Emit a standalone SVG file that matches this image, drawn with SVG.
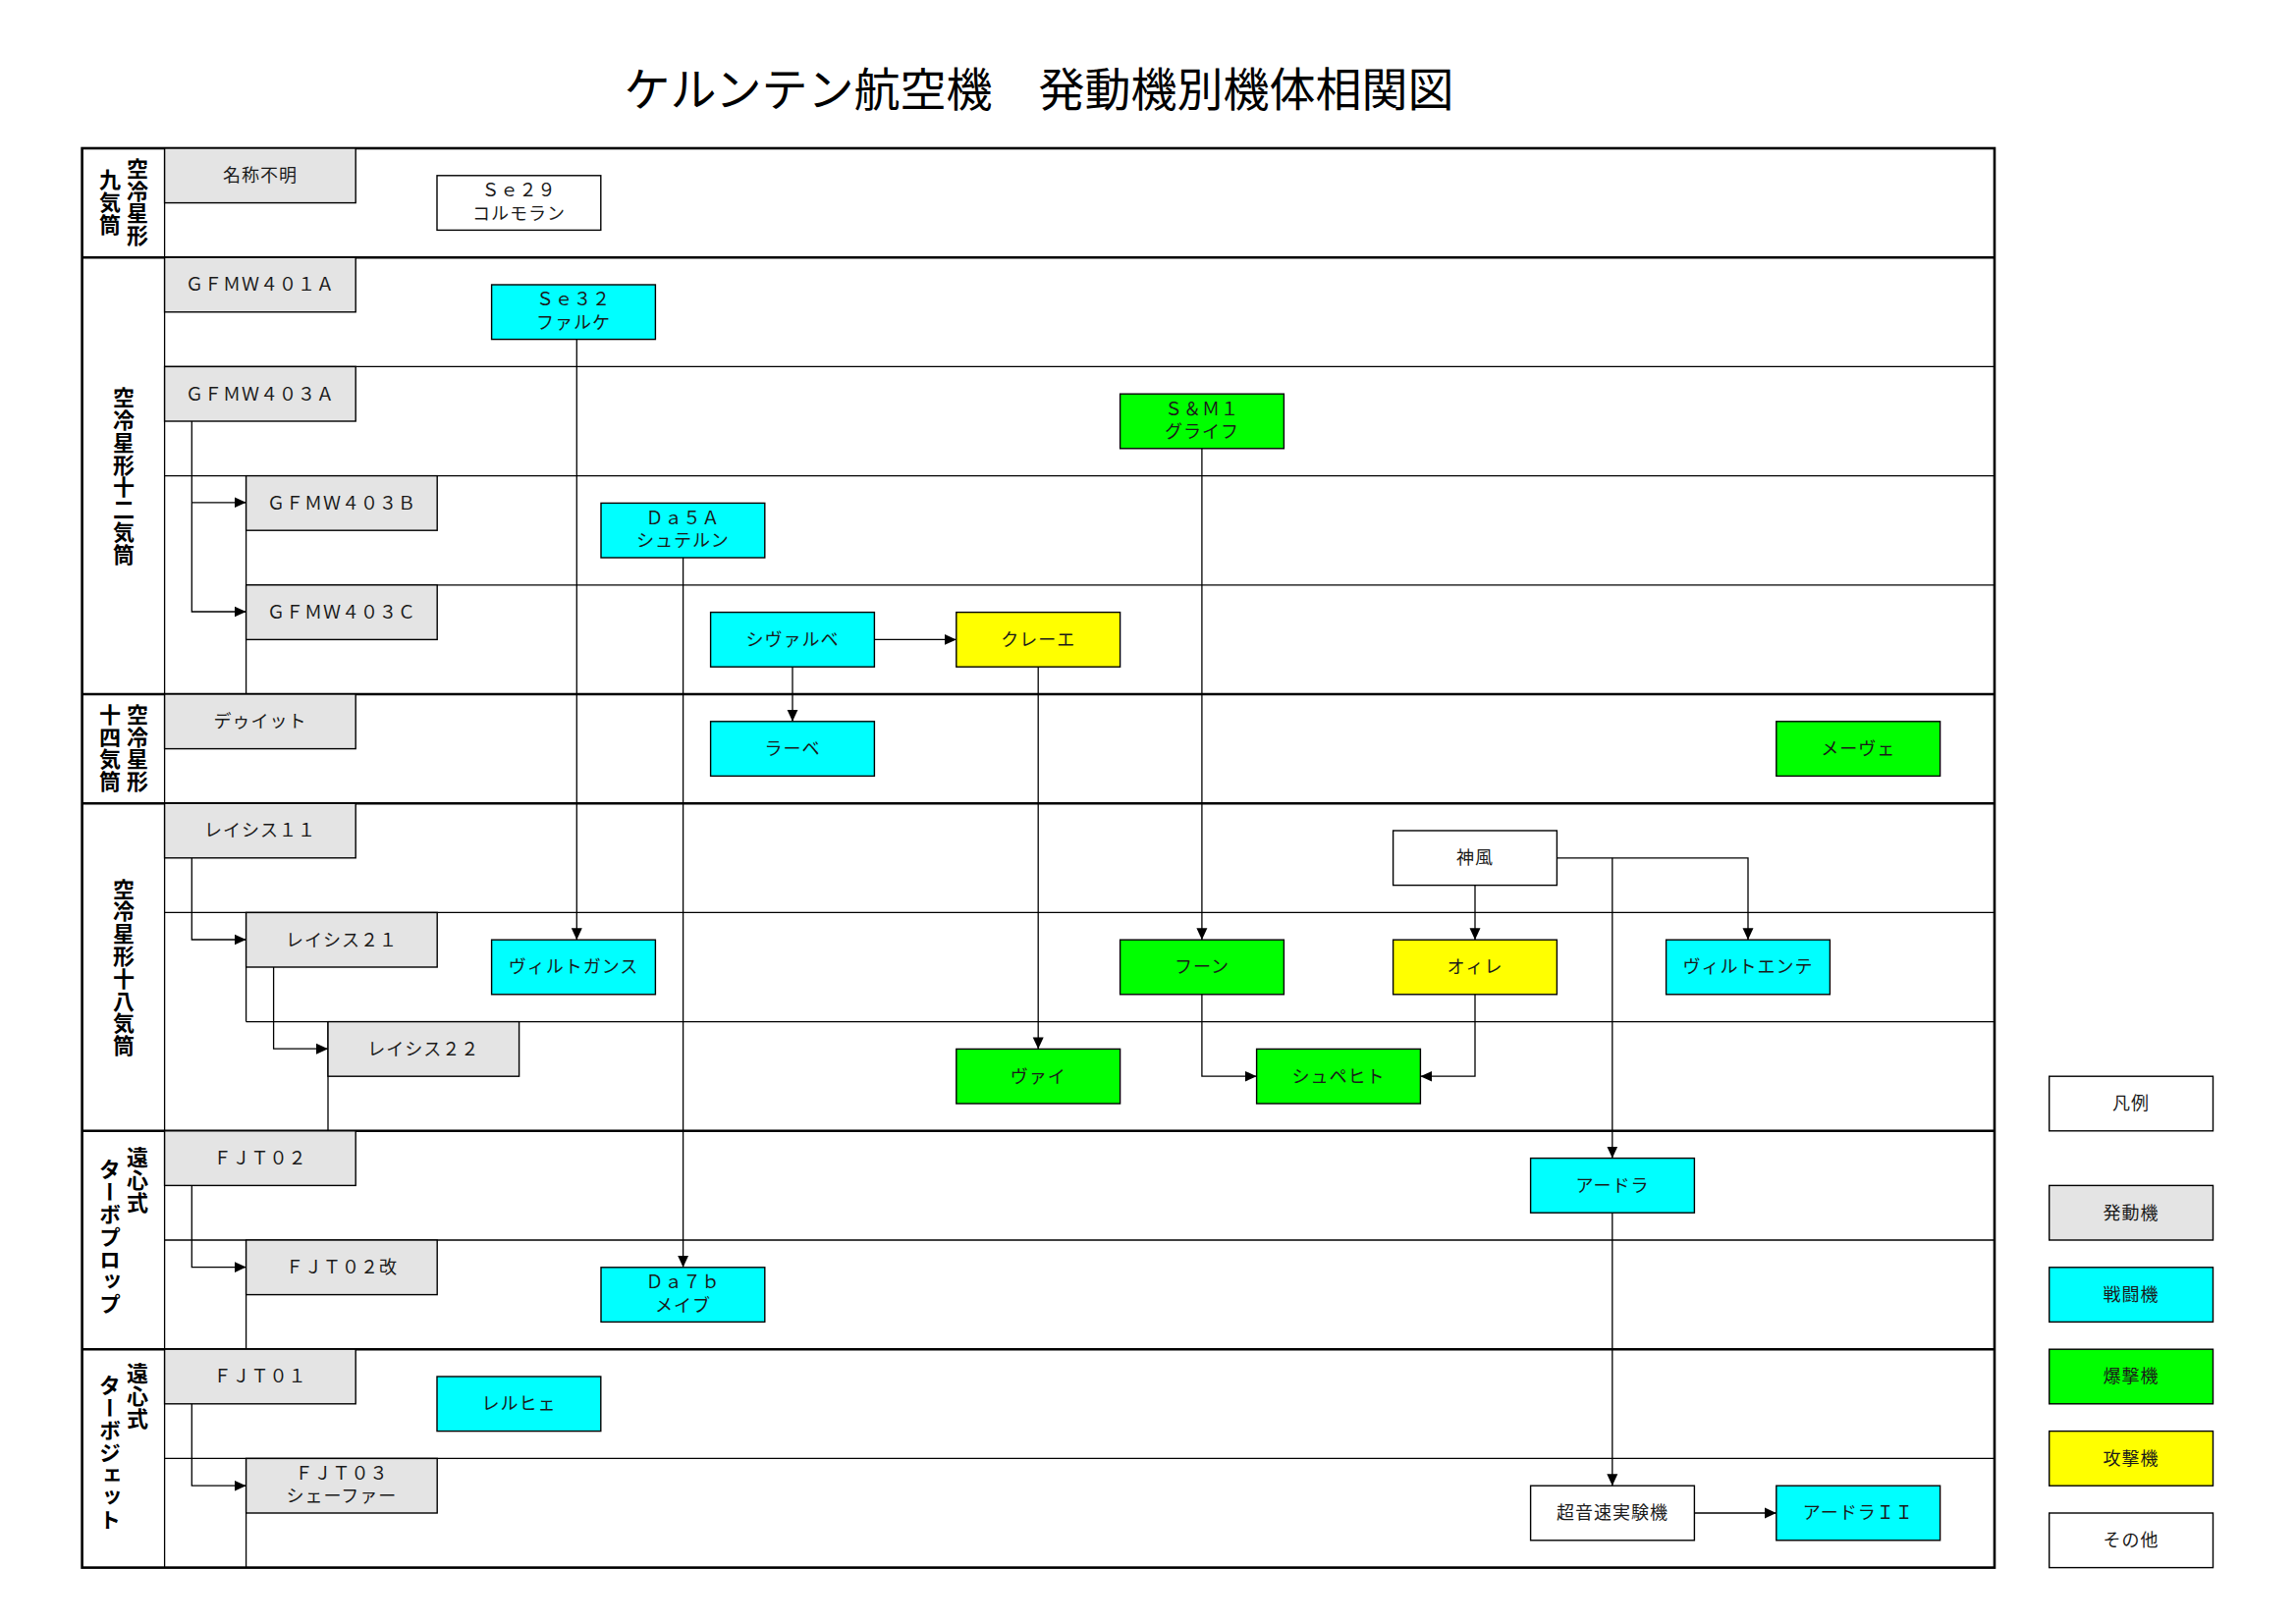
<svg xmlns="http://www.w3.org/2000/svg" width="2338" height="1653" viewBox="0 0 2338 1653">
<defs>
<marker id="arr" viewBox="0 0 12 12" refX="12" refY="6" markerWidth="12" markerHeight="12" markerUnits="userSpaceOnUse" orient="auto"><path d="M0,0.5L12,6L0,11.5z" fill="#000"/></marker>
<style>
.thick{stroke:#000;stroke-width:2.6;fill:none}
.thin{stroke:#000;stroke-width:1.3;fill:none}
.box{stroke:#000;stroke-width:1.4}
.eng{fill:#e4e4e4}
.ftr{fill:#00ffff}
.bmb{fill:#00ff00}
.atk{fill:#ffff00}
.oth{fill:#ffffff}
.t{font-family:"Noto Sans CJK JP","Noto Sans",sans-serif;font-size:18px;fill:#1a1a1a;text-anchor:middle;dominant-baseline:central;letter-spacing:1px}
.cat{font-family:"Noto Sans CJK JP",sans-serif;font-size:22px;font-weight:bold;fill:#000;writing-mode:vertical-rl;dominant-baseline:central;letter-spacing:0.8px}
.title{font-family:"Noto Sans CJK JP",sans-serif;font-size:47px;fill:#000;text-anchor:middle}
#connectors path{fill:none;stroke:#000;stroke-width:1.3;marker-end:url(#arr)}
</style>
</defs>
<rect width="2338" height="1653" fill="#fff"/>
<text class="title" x="1058" y="108">ケルンテン航空機　発動機別機体相関図</text>

<g id="grid">
<line class="thin" x1="167.6" y1="151" x2="167.6" y2="1596.6"/>
<line class="thin" x1="167.6" y1="373.4" x2="2031" y2="373.4"/>
<line class="thin" x1="167.6" y1="484.6" x2="2031" y2="484.6"/>
<line class="thin" x1="250.6" y1="595.8" x2="2031" y2="595.8"/>
<line class="thin" x1="167.6" y1="929.4" x2="2031" y2="929.4"/>
<line class="thin" x1="250.6" y1="1040.6" x2="2031" y2="1040.6"/>
<line class="thin" x1="167.6" y1="1263" x2="2031" y2="1263"/>
<line class="thin" x1="167.6" y1="1485.4" x2="2031" y2="1485.4"/>
<line class="thin" x1="250.6" y1="484.6" x2="250.6" y2="707"/>
<line class="thin" x1="250.6" y1="929.4" x2="250.6" y2="1040.6"/>
<line class="thin" x1="334" y1="1040.6" x2="334" y2="1151.8"/>
<line class="thin" x1="250.6" y1="1263" x2="250.6" y2="1374.2"/>
<line class="thin" x1="250.6" y1="1485.4" x2="250.6" y2="1596.6"/>
<line class="thick" x1="83.6" y1="262.2" x2="2031" y2="262.2"/>
<line class="thick" x1="83.6" y1="707" x2="2031" y2="707"/>
<line class="thick" x1="83.6" y1="818.2" x2="2031" y2="818.2"/>
<line class="thick" x1="83.6" y1="1151.8" x2="2031" y2="1151.8"/>
<line class="thick" x1="83.6" y1="1374.2" x2="2031" y2="1374.2"/>
<rect class="thick" x="83.6" y="151" width="1947.4" height="1445.6"/>
</g>

<g id="categories">
<text class="cat" x="140" y="206" text-anchor="middle">空冷星形</text>
<text class="cat" x="112" y="206" text-anchor="middle">九気筒</text>
<text class="cat" x="126" y="485" text-anchor="middle">空冷星形十二気筒</text>
<text class="cat" x="140" y="762" text-anchor="middle">空冷星形</text>
<text class="cat" x="112" y="762" text-anchor="middle">十四気筒</text>
<text class="cat" x="126" y="985.5" text-anchor="middle">空冷星形十八気筒</text>
<text class="cat" x="140" y="1168">遠心式</text>
<text class="cat" x="112" y="1180">ターボプロップ</text>
<text class="cat" x="140" y="1388">遠心式</text>
<text class="cat" x="112" y="1400">ターボジェット</text>
</g>

<g id="connectors">
<path d="M195.3,428.8V623H250.6"/>
<path d="M195.3,511.8H250.6"/>
<path d="M195.3,873.8V957H250.6"/>
<path d="M278.6,985V1068.2H334"/>
<path d="M195.3,1207.4V1290.6H250.6"/>
<path d="M195.3,1429.8V1513.2H250.6"/>
<path d="M587.3,345.6V957.2"/>
<path d="M695.6,568V1290.8"/>
<path d="M1223.9,456.8V957.2"/>
<path d="M890.4,651.4H973.8"/>
<path d="M807,679.2V734.8"/>
<path d="M1057.2,679.2V1068.4"/>
<path d="M1502,901.6V957.2"/>
<path d="M1585.8,873.8H1780V957.2"/>
<path d="M1641.8,873.8V1179.6"/>
<path d="M1502,1012.8V1096.2H1446.4"/>
<path d="M1223.9,1012.8V1096.2H1279.6"/>
<path d="M1641.8,1235.2V1513.2"/>
<path d="M1725.4,1541H1808.8"/>
</g>

<g id="n-meisho"><rect class="box eng" x="167.6" y="151" width="194.6" height="55.6"/><text class="t" x="264.9" y="177">名称不明</text></g>
<g id="n-gfmw401a"><rect class="box eng" x="167.6" y="262.2" width="194.6" height="55.6"/><text class="t" x="264.9" y="288.3">ＧＦＭＷ４０１Ａ</text></g>
<g id="n-gfmw403a"><rect class="box eng" x="167.6" y="373.4" width="194.6" height="55.6"/><text class="t" x="264.9" y="399.5">ＧＦＭＷ４０３Ａ</text></g>
<g id="n-gfmw403b"><rect class="box eng" x="250.6" y="484.6" width="194.6" height="55.6"/><text class="t" x="347.9" y="510.7">ＧＦＭＷ４０３Ｂ</text></g>
<g id="n-gfmw403c"><rect class="box eng" x="250.6" y="595.8" width="194.6" height="55.6"/><text class="t" x="347.9" y="621.9">ＧＦＭＷ４０３Ｃ</text></g>
<g id="n-dewitt"><rect class="box eng" x="167.6" y="707" width="194.6" height="55.6"/><text class="t" x="264.9" y="733.1">デゥイット</text></g>
<g id="n-reisis11"><rect class="box eng" x="167.6" y="818.2" width="194.6" height="55.6"/><text class="t" x="264.9" y="844.3">レイシス１１</text></g>
<g id="n-reisis21"><rect class="box eng" x="250.6" y="929.4" width="194.6" height="55.6"/><text class="t" x="347.9" y="955.5">レイシス２１</text></g>
<g id="n-reisis22"><rect class="box eng" x="334" y="1040.6" width="194.6" height="55.6"/><text class="t" x="431.3" y="1066.7">レイシス２２</text></g>
<g id="n-fjt02"><rect class="box eng" x="167.6" y="1151.8" width="194.6" height="55.6"/><text class="t" x="264.9" y="1177.9">ＦＪＴ０２</text></g>
<g id="n-fjt02kai"><rect class="box eng" x="250.6" y="1263" width="194.6" height="55.6"/><text class="t" x="347.9" y="1289.1">ＦＪＴ０２改</text></g>
<g id="n-fjt01"><rect class="box eng" x="167.6" y="1374.2" width="194.6" height="55.6"/><text class="t" x="264.9" y="1400.3">ＦＪＴ０１</text></g>
<g id="n-fjt03"><rect class="box eng" x="250.6" y="1485.4" width="194.6" height="55.6"/><text class="t" x="347.9" y="1498.6">ＦＪＴ０３</text><text class="t" x="347.9" y="1522">シェーファー</text></g>

<g id="n-se29"><rect class="box oth" x="445" y="178.8" width="166.8" height="55.6"/><text class="t" x="528.4" y="192.2">Ｓｅ２９</text><text class="t" x="528.4" y="215.6">コルモラン</text></g>
<g id="n-se32"><rect class="box ftr" x="500.6" y="290" width="166.8" height="55.6"/><text class="t" x="584" y="303.4">Ｓｅ３２</text><text class="t" x="584" y="326.8">ファルケ</text></g>
<g id="n-da5a"><rect class="box ftr" x="612" y="512.4" width="166.8" height="55.6"/><text class="t" x="695.4" y="525.8">Ｄａ５Ａ</text><text class="t" x="695.4" y="549.2">シュテルン</text></g>
<g id="n-sm1"><rect class="box bmb" x="1140.6" y="401.2" width="166.8" height="55.6"/><text class="t" x="1224" y="414.6">Ｓ＆Ｍ１</text><text class="t" x="1224" y="438">グライフ</text></g>
<g id="n-schwalbe"><rect class="box ftr" x="723.6" y="623.6" width="166.8" height="55.6"/><text class="t" x="807" y="649.7">シヴァルベ</text></g>
<g id="n-kraehe"><rect class="box atk" x="973.8" y="623.6" width="166.8" height="55.6"/><text class="t" x="1057.2" y="649.7">クレーエ</text></g>
<g id="n-rabe"><rect class="box ftr" x="723.6" y="734.8" width="166.8" height="55.6"/><text class="t" x="807" y="760.9">ラーベ</text></g>
<g id="n-moewe"><rect class="box bmb" x="1808.8" y="734.8" width="166.8" height="55.6"/><text class="t" x="1892.2" y="760.9">メーヴェ</text></g>
<g id="n-kamikaze"><rect class="box oth" x="1418.6" y="846" width="166.8" height="55.6"/><text class="t" x="1502" y="872.1">神風</text></g>
<g id="n-wildgans"><rect class="box ftr" x="500.6" y="957.2" width="166.8" height="55.6"/><text class="t" x="584" y="983.3">ヴィルトガンス</text></g>
<g id="n-huhn"><rect class="box bmb" x="1140.6" y="957.2" width="166.8" height="55.6"/><text class="t" x="1224" y="983.3">フーン</text></g>
<g id="n-eule"><rect class="box atk" x="1418.6" y="957.2" width="166.8" height="55.6"/><text class="t" x="1502" y="983.3">オィレ</text></g>
<g id="n-wildente"><rect class="box ftr" x="1696.6" y="957.2" width="166.8" height="55.6"/><text class="t" x="1780" y="983.3">ヴィルトエンテ</text></g>
<g id="n-weih"><rect class="box bmb" x="973.8" y="1068.4" width="166.8" height="55.6"/><text class="t" x="1057.2" y="1094.5">ヴァイ</text></g>
<g id="n-specht"><rect class="box bmb" x="1279.6" y="1068.4" width="166.8" height="55.6"/><text class="t" x="1363" y="1094.5">シュペヒト</text></g>
<g id="n-adler"><rect class="box ftr" x="1558.6" y="1179.6" width="166.8" height="55.6"/><text class="t" x="1642" y="1205.7">アードラ</text></g>
<g id="n-da7b"><rect class="box ftr" x="612" y="1290.8" width="166.8" height="55.6"/><text class="t" x="695.4" y="1304.2">Ｄａ７ｂ</text><text class="t" x="695.4" y="1327.6">メイブ</text></g>
<g id="n-lerche"><rect class="box ftr" x="445" y="1402" width="166.8" height="55.6"/><text class="t" x="528.4" y="1428.1">レルヒェ</text></g>
<g id="n-ssx"><rect class="box oth" x="1558.6" y="1513.2" width="166.8" height="55.6"/><text class="t" x="1642" y="1539.3">超音速実験機</text></g>
<g id="n-adler2"><rect class="box ftr" x="1808.8" y="1513.2" width="166.8" height="55.6"/><text class="t" x="1892.2" y="1539.3">アードラＩＩ</text></g>

<g id="legend">
<g id="lg-title"><rect class="box oth" x="2086.7" y="1096.2" width="166.8" height="55.6"/><text class="t" x="2170.1" y="1122.3">凡例</text></g>
<g id="lg-engine"><rect class="box eng" x="2086.7" y="1207.4" width="166.8" height="55.6"/><text class="t" x="2170.1" y="1233.5">発動機</text></g>
<g id="lg-fighter"><rect class="box ftr" x="2086.7" y="1290.8" width="166.8" height="55.6"/><text class="t" x="2170.1" y="1316.9">戦闘機</text></g>
<g id="lg-bomber"><rect class="box bmb" x="2086.7" y="1374.2" width="166.8" height="55.6"/><text class="t" x="2170.1" y="1400.3">爆撃機</text></g>
<g id="lg-attack"><rect class="box atk" x="2086.7" y="1457.6" width="166.8" height="55.6"/><text class="t" x="2170.1" y="1483.7">攻撃機</text></g>
<g id="lg-other"><rect class="box oth" x="2086.7" y="1541" width="166.8" height="55.6"/><text class="t" x="2170.1" y="1567.1">その他</text></g>
</g>
</svg>
